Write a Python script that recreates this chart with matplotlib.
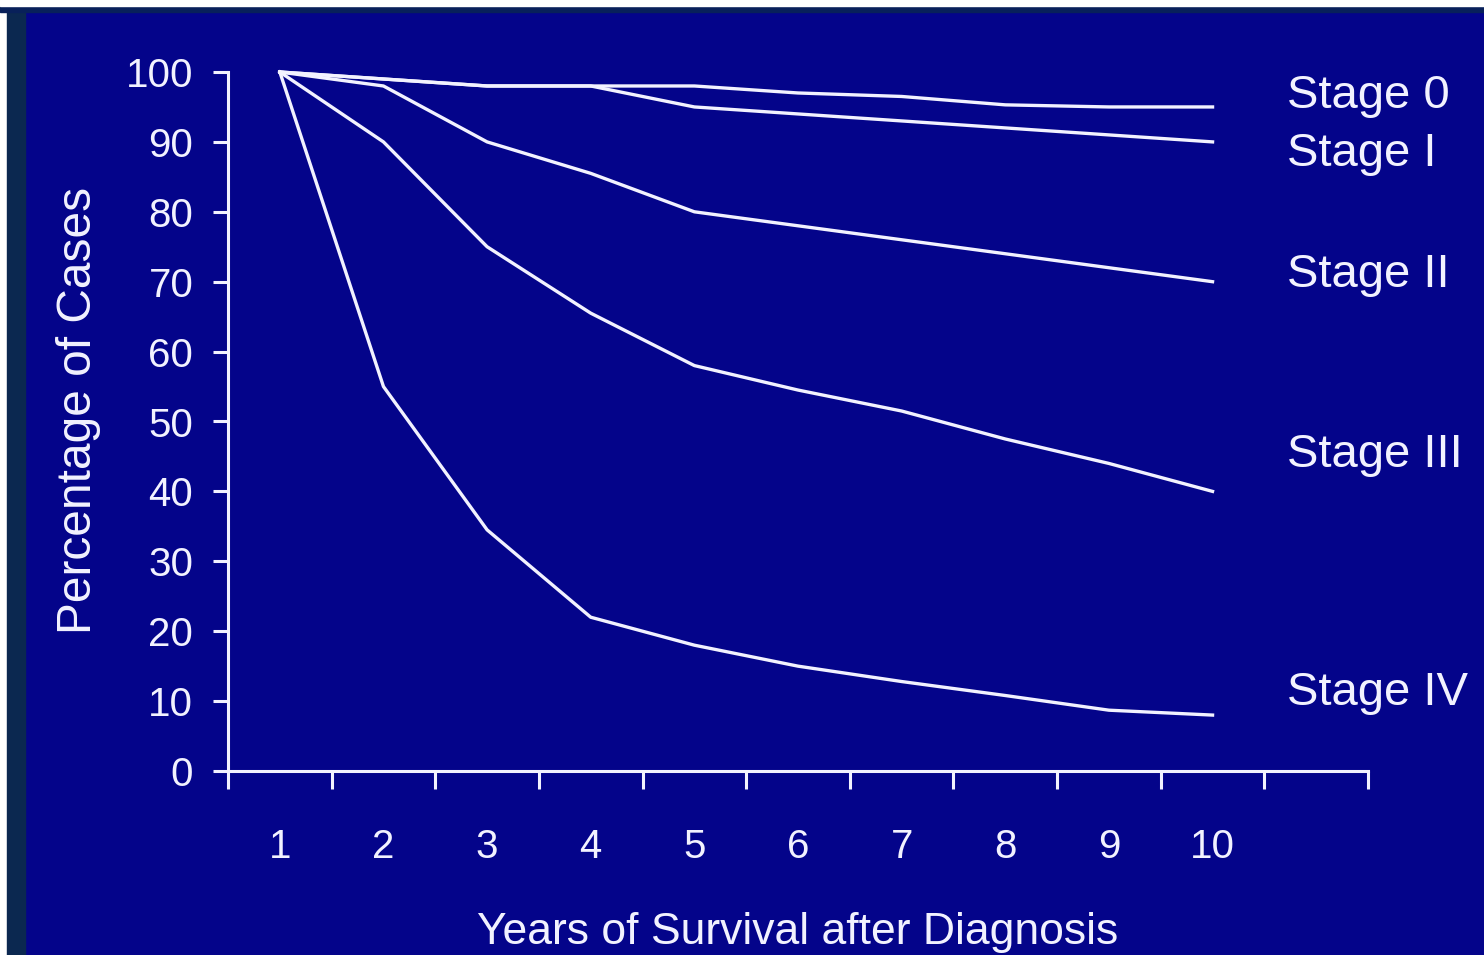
import matplotlib
matplotlib.use("Agg")
import matplotlib.pyplot as plt
from matplotlib.patches import Rectangle

# years after diagnosis and survival percentage per stage
years = [1, 2, 3, 4, 5, 6, 7, 8, 9, 10]
stage_0 = [100, 99, 98, 98, 98, 97, 96.5, 95.3, 95, 95]
stage_1 = [100, 99, 98, 98, 95, 94, 93, 92, 91, 90]
stage_2 = [100, 98, 90, 85.5, 80, 78, 76, 74, 72, 70]
stage_3 = [100, 90, 75, 65.5, 58, 54.5, 51.5, 47.5, 44, 40]
stage_4 = [100, 55, 34.5, 22, 18, 15, 12.8, 10.8, 8.7, 8]
stage_names = ["Stage 0", "Stage I", "Stage II", "Stage III", "Stage IV"]
label_y = [96.5, 88.3, 71, 45.2, 11.2]

bg = "#04048a"
fg = "#f2f2ff"
plt.rcParams["font.family"] = ["Liberation Sans", "DejaVu Sans"]

fig = plt.figure(figsize=(14.84, 9.55), dpi=100, facecolor=bg)
# slide border strips at the left and top edge
fig.patches.append(Rectangle((0, 0), 7/1484, 1, transform=fig.transFigure, color="white", zorder=0))
fig.patches.append(Rectangle((7/1484, 0), 18/1484, 1, transform=fig.transFigure, color="#0b2850", zorder=0))
fig.patches.append(Rectangle((0, 1 - 12/955), 1, 6/955, transform=fig.transFigure, color="#08205a", zorder=0))
fig.patches.append(Rectangle((0, 1 - 6/955), 1, 6/955, transform=fig.transFigure, color="white", zorder=0))

ax = fig.add_axes([228/1484, 1 - 771/955, 1140/1484, 699/955])
ax.set_facecolor(bg)

for s in [stage_0, stage_1, stage_2, stage_3, stage_4]:
    ax.plot(years, s, color=fg, lw=2.4, clip_on=False)

for name, y in zip(stage_names, label_y):
    ax.text(10.72, y, name, color=fg, fontsize=34, va="center", ha="left", clip_on=False)

ax.set_xlim(0.5, 11.5)
ax.set_ylim(0, 100)
ax.set_yticks(range(0, 101, 10))
ax.set_xticks(years)
ax.set_xticks([k + 0.5 for k in range(12)], minor=True)

for side in ["top", "right"]:
    ax.spines[side].set_visible(False)
for side in ["left", "bottom"]:
    ax.spines[side].set_color(fg)
    ax.spines[side].set_linewidth(2.2)

ax.tick_params(axis="y", colors=fg, labelsize=29, length=11, width=2.2, pad=14)
ax.tick_params(axis="x", which="major", colors=fg, labelsize=29, length=0, pad=41)
ax.tick_params(axis="x", which="minor", colors=fg, length=13, width=2.2)

ax.set_xlabel("Years of Survival after Diagnosis", color=fg, fontsize=32)
ax.set_ylabel("Percentage of Cases", color=fg, fontsize=34.5)
ax.xaxis.set_label_coords(0.5, -0.202)
ax.yaxis.set_label_coords(-0.111, 0.516)

fig.savefig("out.png", dpi=100, facecolor=bg)
